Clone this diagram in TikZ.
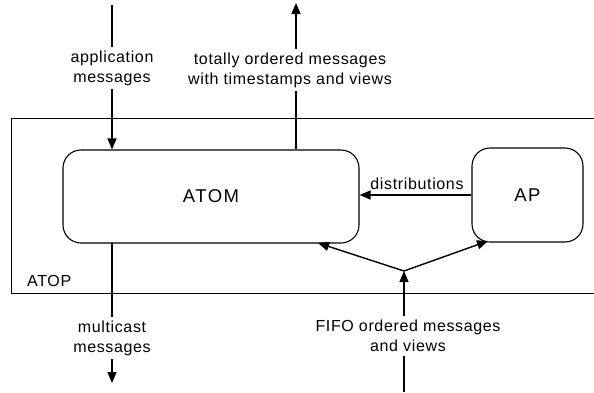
\documentclass[tikz,border=0pt]{standalone}
\usepackage{fontspec}
\setmainfont{Liberation Sans}[LetterSpace=4]
\newfontfamily\boxfont{Liberation Sans}[LetterSpace=8]
\usetikzlibrary{arrows.meta}
\tikzset{
  box/.style={draw, line width=1.1pt, rounded corners=18pt, inner sep=0pt},
  boxlabel/.style={font=\boxfont\fontsize{18.5}{20}\selectfont},
  lbl/.style={font=\fontsize{16}{20}\selectfont, align=center, fill=white, inner xsep=1pt, inner ysep=4pt},
  arr/.style={line width=1.4pt, -{Triangle[length=11pt,width=9pt]}},
  ln/.style={line width=1.4pt},
}
\begin{document}
\begin{tikzpicture}[x=1pt,y=-1pt]
\useasboundingbox (0,0) rectangle (594,392);
\clip (0,0) rectangle (594,392);
% ATOP outer box
\node[draw, line width=0.9pt, minimum width=600pt, minimum height=175pt, anchor=north west, inner sep=0pt] (atop) at (11,118) {};
\node[font=\fontsize{16}{20}\selectfont, anchor=south west, inner sep=0pt] (atoplbl) at (27,287) {ATOP};
% inner boxes
\node[box, boxlabel, minimum width=296pt, minimum height=93pt] (atom) at (211,196.5) {ATOM};
\node[box, boxlabel, minimum width=111pt, minimum height=94pt] (ap) at (527.5,195) {AP};
% coordinates
\coordinate (appin) at (112,5);
\coordinate (totout) at (296,3);
\coordinate (mcout) at (112,383);
\coordinate (fifoin) at (404,392);
\coordinate (junc) at (404,271);
\coordinate (atomin) at (318,243);
\coordinate (apin) at (488,241);
% application messages
\draw[arr] (appin) -- (appin |- atom.north);
\node[lbl] (applbl) at (112,68) {application\\messages};
% totally ordered
\draw[arr] (totout |- atom.north) -- (totout);
\node[lbl] (totlbl) at (290,70) {totally ordered messages\\with timestamps and views};
% distributions
\draw[arr] (ap.west) -- (ap.west -| atom.east);
\node[font=\fontsize{16}{20}\selectfont, anchor=south, inner sep=0pt] (distlbl) at (417,190) {distributions};
% multicast
\draw[arr] (112,243) -- (mcout);
\node[lbl] (mclbl) at (112,338) {multicast\\messages};
% FIFO
\draw[arr] (fifoin) -- (junc);
\node[lbl] (fifolbl) at (408,336) {FIFO ordered messages\\and views};
\draw[arr] (junc) -- (atomin);
\draw[arr] (junc) -- (apin);
\end{tikzpicture}
\end{document}
